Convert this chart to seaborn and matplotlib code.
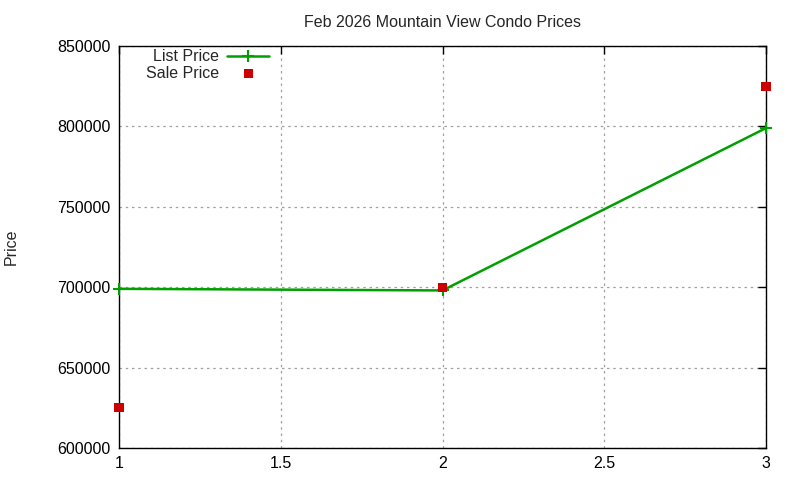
import matplotlib
matplotlib.use("Agg")
import matplotlib.pyplot as plt
import seaborn as sns
import pandas as pd

x_vals = [1, 2, 3]
list_price = [699000, 698000, 799000]
sale_price = [625000, 700000, 825000]
title = "Feb 2026 Mountain View Condo Prices"
y_ticks = [600000, 650000, 700000, 750000, 800000, 850000]
x_ticks = [1, 1.5, 2, 2.5, 3]

sns.set_style("white")
plt.rcParams['font.family'] = ['Liberation Sans', 'DejaVu Sans']

df = pd.DataFrame({"x": x_vals, "list": list_price, "sale": sale_price})

fig = plt.figure(figsize=(8, 4.8), dpi=100)
ax = fig.add_axes([0.14875, 0.0667, 0.80875, 0.8373])

green = "#00a000"
sns.lineplot(data=df, x="x", y="list", ax=ax, color=green, linewidth=1.8,
             marker="+", markersize=9, markeredgewidth=1.5, markeredgecolor=green,
             label="List Price", clip_on=False, zorder=4)
sns.scatterplot(data=df, x="x", y="sale", ax=ax, color="#cc0000", marker="s",
                s=45, edgecolor="none", label="Sale Price", zorder=5, clip_on=False)

ax.set_xlim(1, 3)
ax.set_ylim(600000, 850000)
ax.set_xticks(x_ticks)
ax.set_xticklabels(["1", "1.5", "2", "2.5", "3"])
ax.set_yticks(y_ticks)
ax.set_yticklabels([str(v) for v in y_ticks])
ax.grid(True, color="#a0a0a0", linestyle=(0, (2, 3)), linewidth=0.9)
ax.tick_params(direction="in", length=6, width=1, labelsize=11.5, top=True, right=True,
               labeltop=False, labelright=False, pad=6, colors="black")
for s in ax.spines.values():
    s.set_color("black")
    s.set_linewidth(1.0)
ax.set_xlabel("")
ax.set_ylabel("Price", fontsize=11.5, labelpad=28)
ax.set_title(title, fontsize=11.5, pad=14)

leg = ax.legend(loc="upper left", bbox_to_anchor=(0.025, 1.02), frameon=False,
                markerfirst=False, fontsize=11.5, handlelength=2.6,
                handletextpad=0.5, labelspacing=0.1, borderaxespad=0.3)
for t in leg.get_texts():
    t.set_ha("right")

fig.savefig("out.png", dpi=100)
